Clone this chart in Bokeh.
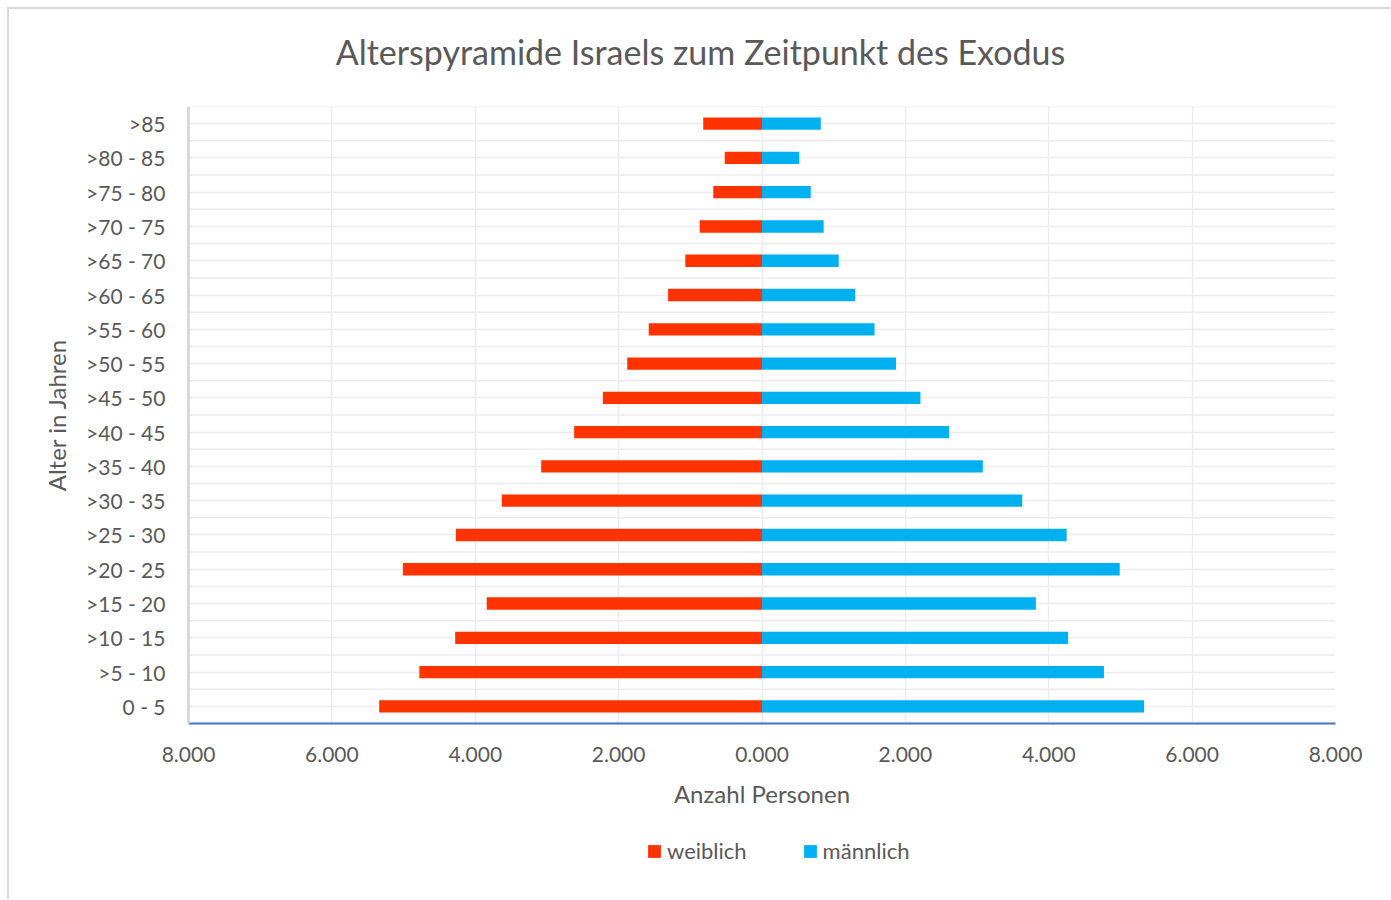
import math
from bokeh.plotting import figure
from bokeh.layouts import column
from bokeh.models import (FixedTicker, Legend, LegendItem, ColumnDataSource,
                          FactorRange, Range1d, Label)
from bokeh.transform import dodge
from bokeh.embed import file_html
from bokeh.resources import INLINE

# ---- data ----
age_groups = ["0 - 5", ">5 - 10", ">10 - 15", ">15 - 20", ">20 - 25", ">25 - 30",
              ">30 - 35", ">35 - 40", ">40 - 45", ">45 - 50", ">50 - 55", ">55 - 60",
              ">60 - 65", ">65 - 70", ">70 - 75", ">75 - 80", ">80 - 85", ">85"]
weiblich = [5340, 4780, 4280, 3840, 5010, 4270, 3630, 3080, 2620, 2220,
            1880, 1580, 1310, 1070, 870, 680, 520, 820]
maennlich = [5330, 4770, 4270, 3820, 4990, 4250, 3630, 3080, 2610, 2210,
             1870, 1570, 1300, 1070, 860, 680, 520, 820]
x_ticks = [-8000, -6000, -4000, -2000, 0, 2000, 4000, 6000, 8000]
x_tick_labels = ["8.000", "6.000", "4.000", "2.000", "0.000",
                 "2.000", "4.000", "6.000", "8.000"]
series_names = ["weiblich", "männlich"]

title_text = "Alterspyramide Israels zum Zeitpunkt des Exodus"
x_label = "Anzahl Personen"
y_label = "Alter in Jahren"

RED = "#FF3300"
BLUE = "#00B0F0"
TXT = "#595959"
GRID = "#ececec"
FONT = "Lato"
W = 1381

src = ColumnDataSource(dict(age=age_groups,
                            w_neg=[-v for v in weiblich],
                            m=maennlich,
                            x0=[-8000] * len(age_groups),
                            x1=[8000] * len(age_groups)))


def blank_fig(h):
    f = figure(width=W, height=h, output_backend="svg", toolbar_location=None,
               x_axis_location=None, y_axis_location=None,
               min_border=0, x_range=Range1d(0, 1), y_range=Range1d(0, 1))
    f.outline_line_color = None
    f.xgrid.visible = False
    f.ygrid.visible = False
    f.border_fill_color = "white"
    f.background_fill_color = "white"
    return f


# ---- title strip (frame aligned with main chart frame by the column layout) ----
t = blank_fig(97)
t.add_layout(Label(x=512, y=55, x_units="screen", y_units="screen", text=title_text,
                   text_align="center", text_baseline="middle", text_font=FONT,
                   text_font_size="34px", text_color=TXT))

# ---- main chart ----
p = figure(width=W, height=719, output_backend="svg", toolbar_location=None,
           y_range=FactorRange(factors=age_groups, range_padding=0),
           x_range=Range1d(-8000, 8000),
           frame_width=1147, frame_height=617,
           min_border_left=179, min_border_right=55,
           min_border_top=0, min_border_bottom=102)
p.outline_line_color = None
p.background_fill_color = "white"
p.border_fill_color = "white"

# boundary grid lines between categories
p.segment(x0="x0", x1="x1", y0=dodge("age", 0.5, range=p.y_range),
          y1=dodge("age", 0.5, range=p.y_range), source=src,
          line_color=GRID, line_width=1.5)

p.hbar(y="age", left="w_neg", right=0, height=0.36, source=src,
       fill_color=RED, line_color=None)
p.hbar(y="age", left=0, right="m", height=0.36, source=src,
       fill_color=BLUE, line_color=None)

p.xaxis.ticker = FixedTicker(ticks=x_ticks)
p.xaxis.major_label_overrides = {t_: l for t_, l in zip(x_ticks, x_tick_labels)}
p.xaxis.axis_line_color = "#4472C4"
p.xaxis.axis_line_width = 2
p.xaxis.major_tick_line_color = None
p.xaxis.minor_tick_line_color = None
p.xaxis.major_label_standoff = 17
p.xaxis.major_label_text_font = FONT
p.xaxis.major_label_text_font_size = "21px"
p.xaxis.major_label_text_color = TXT
p.xaxis.axis_label = x_label
p.xaxis.axis_label_standoff = 14
p.xaxis.axis_label_text_font = FONT
p.xaxis.axis_label_text_font_style = "normal"
p.xaxis.axis_label_text_font_size = "24px"
p.xaxis.axis_label_text_color = TXT

p.yaxis.axis_line_color = "#d9d9d9"
p.yaxis.axis_line_width = 3
p.yaxis.major_tick_line_color = None
p.yaxis.major_label_standoff = 17
p.yaxis.major_label_text_font = FONT
p.yaxis.major_label_text_font_size = "21px"
p.yaxis.major_label_text_color = TXT
p.yaxis.axis_label = y_label
p.yaxis.axis_label_standoff = 12
p.yaxis.axis_label_text_font = FONT
p.yaxis.axis_label_text_font_style = "normal"
p.yaxis.axis_label_text_font_size = "24px"
p.yaxis.axis_label_text_color = TXT

p.xgrid.ticker = FixedTicker(ticks=x_ticks)
p.xgrid.grid_line_color = GRID
p.xgrid.grid_line_width = 1.5
p.ygrid.grid_line_color = GRID
p.ygrid.grid_line_width = 1.5

# ---- legend strip (proxy renderers lie outside the visible range) ----
lg = blank_fig(74)
lr_w = lg.hbar(y=[-5], left=[-5], right=[-4], height=0.5, fill_color=RED, line_color=None)
lr_m = lg.hbar(y=[-5], left=[-5], right=[-4], height=0.5, fill_color=BLUE, line_color=None)
legend = Legend(items=[LegendItem(label=series_names[0], renderers=[lr_w]),
                       LegendItem(label=series_names[1], renderers=[lr_m])],
                orientation="horizontal", location=(458, 35),
                glyph_width=16, glyph_height=16, label_standoff=5, spacing=55,
                padding=0, margin=0, border_line_color=None,
                background_fill_alpha=0,
                label_text_font=FONT, label_text_font_size="22px",
                label_text_color=TXT)
lg.add_layout(legend, "center")

layout = column(t, p, lg, spacing=0)
layout.styles = {"margin-left": "7px", "margin-top": "7px",
                 "border-top": "2px solid #d9d9d9", "border-left": "2px solid #d9d9d9"}

open("out.html", "w").write(file_html(layout, INLINE))
